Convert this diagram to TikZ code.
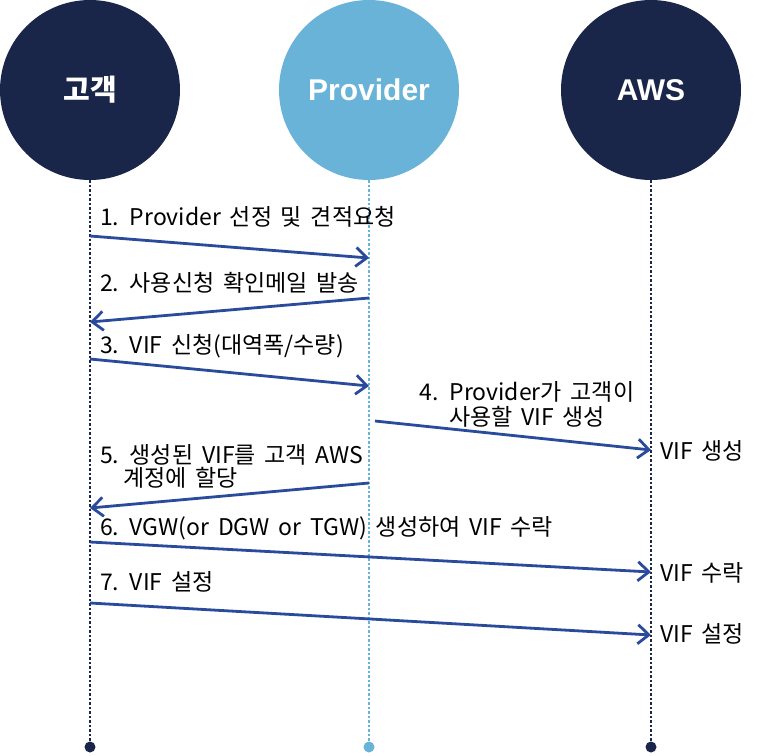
\documentclass[tikz,border=0pt]{standalone}
\usepackage{fontspec}
\setmainfont{Noto Sans CJK KR}[WordSpace=1.7]
\newfontfamily\headfont{Liberation Sans}
\usetikzlibrary{arrows.meta}
\definecolor{navy}{HTML}{1A2649}
\definecolor{skyblue}{HTML}{69B3D9}
\definecolor{msgblue}{HTML}{2A4B9B}

\begin{document}
\begin{tikzpicture}[x=1pt,y=-1pt,
  actor/.style={circle,minimum size=180pt,inner sep=0pt,text=white},
  life/.style={line width=2.5pt,dash pattern=on 2.5pt off 2pt},
  msg/.style={msgblue,line width=2.8pt,-{Straight Barb[length=11pt,width=19pt]}},
  lbl/.style={font=\fontsize{23}{25}\selectfont,inner sep=0pt}]
\useasboundingbox (0,0) rectangle (763,755);

% Actors
\node[actor,fill=navy] (cust) at (90,90) {\fontsize{29}{30}\selectfont\bfseries 고객};
\node[actor,fill=skyblue] (prov) at (369,90) {\headfont\fontsize{30}{30}\selectfont\bfseries Provider};
\node[actor,fill=navy] (aws) at (651,90) {\headfont\fontsize{30}{30}\selectfont\bfseries AWS};

% Lifelines
\coordinate (custEnd) at (90,747);
\coordinate (provEnd) at (369,747);
\coordinate (awsEnd) at (651,747);
\draw[life,navy] (cust) -- (custEnd);
\draw[life,skyblue,line width=2pt] (prov) -- (provEnd);
\draw[life,navy] (aws) -- (awsEnd);
\fill[navy] (custEnd) circle (5.5pt);
\fill[skyblue] (provEnd) circle (5.5pt);
\fill[navy] (awsEnd) circle (5.5pt);

% Message end points
\coordinate (c1) at (90,236);  \coordinate (p1) at (369,258);
\coordinate (p2) at (369,298); \coordinate (c2) at (90,322);
\coordinate (c3) at (90,359);  \coordinate (p3) at (369,386);
\coordinate (p4) at (375,421); \coordinate (a4) at (651,450);
\coordinate (p5) at (369,483); \coordinate (c5) at (90,508);
\coordinate (c6) at (90,542);  \coordinate (a6) at (651,572);
\coordinate (c7) at (90,603);  \coordinate (a7) at (651,635);

% Messages
\draw[msg] (c1) -- (p1);
\draw[msg] (p2) -- (c2);
\draw[msg] (c3) -- (p3);
\draw[msg] (p4) -- (a4);
\draw[msg] (p5) -- (c5);
\draw[msg] (c6) -- (a6);
\draw[msg] (c7) -- (a7);

% Writing
\node[lbl,anchor=west] (t1) at (100,217) {1. Provider 선정 및 견적요청};
\node[lbl,anchor=west] (t2) at (100,283) {2. 사용신청 확인메일 발송};
\node[lbl,anchor=west] (t3) at (100,346) {3. VIF 신청(대역폭/수량)};
\node[lbl,align=center] (t4) at (527,404) {4. Provider가 고객이\\사용할 VIF 생성};
\node[lbl,anchor=west] (t5) at (100,455) {5. 생성된 VIF를 고객 AWS};
\node[lbl,anchor=west] (t5b) at (123,478) {계정에 할당};
\node[lbl,anchor=west] (t6) at (100,528) {6. VGW(or DGW or TGW) 생성하여 VIF 수락};
\node[lbl,anchor=west] (t7) at (100,582) {7. VIF 설정};
\node[lbl,anchor=west] (r4) at (660,451) {VIF 생성}; % AWS side
\node[lbl,anchor=west] (r6) at (660,573) {VIF 수락};
\node[lbl,anchor=west] (r7) at (660,634) {VIF 설정};
\end{tikzpicture}
\end{document}
